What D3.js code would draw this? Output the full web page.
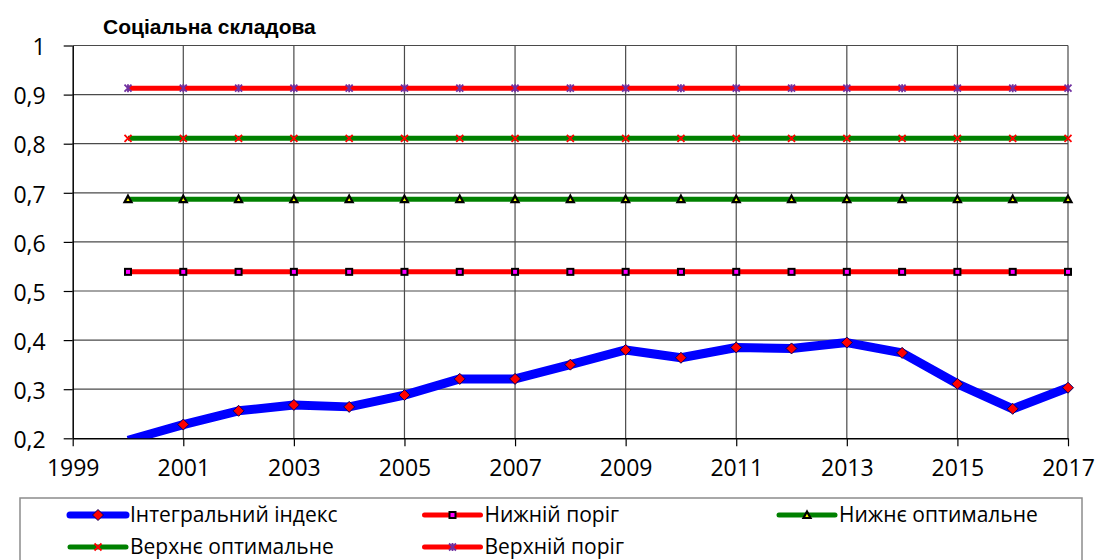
<!DOCTYPE html>
<html><head><meta charset="utf-8">
<script src="https://cdn.jsdelivr.net/npm/d3@7"></script>
<style>
body{margin:0;background:#fff;}
svg{display:block;}
</style></head>
<body>
<svg id="chart" width="1096" height="560"></svg>
<script>
const years = [2000,2001,2002,2003,2004,2005,2006,2007,2008,2009,2010,2011,2012,2013,2014,2015,2016,2017];
const integralIndex = [0.196,0.228,0.256,0.268,0.264,0.288,0.321,0.321,0.350,0.380,0.364,0.385,0.383,0.395,0.374,0.311,0.260,0.303];
const lowerThreshold = years.map(() => 0.539);
const lowerOptimal = years.map(() => 0.687);
const upperOptimal = years.map(() => 0.811);
const upperThreshold = years.map(() => 0.913);
const xTicks = [1999,2001,2003,2005,2007,2009,2011,2013,2015,2017];
const yTicks = [0.2,0.3,0.4,0.5,0.6,0.7,0.8,0.9,1];
const seriesNames = ["Інтегральний індекс","Нижній поріг","Нижнє оптимальне","Верхнє оптимальне","Верхній поріг"];
const title = "Соціальна складова";

const svg = d3.select("#chart");
const font = "'Open Sans', sans-serif";
const L = 72.7, R = 1068, T = 45.5, B = 438.3;
const x = d3.scaleLinear().domain([1999,2017]).range([L,R]);
const y = d3.scaleLinear().domain([0.2,1]).range([B,T]);

// title
svg.append("text").attr("x",103).attr("y",34).attr("font-family","'Liberation Sans', Arial, sans-serif")
  .attr("font-weight","bold").attr("font-size",21).attr("fill","#000").text(title);

// grid
const grid = svg.append("g");
grid.selectAll("line.v").data(xTicks.slice(1)).join("line")
  .attr("x1",d=>x(d)).attr("x2",d=>x(d)).attr("y1",T).attr("y2",B)
  .attr("stroke","#4a4a4a").attr("stroke-width",1.2);
grid.selectAll("line.h").data(yTicks.slice(1)).join("line")
  .attr("x1",L).attr("x2",R).attr("y1",d=>y(d)).attr("y2",d=>y(d))
  .attr("stroke","#4a4a4a").attr("stroke-width",1.2);

// axes
const fmt = d => d === 1 ? "1" : d3.format(".1f")(d).replace(".", ",");
const gx = svg.append("g").attr("transform",`translate(0,${B})`)
  .call(d3.axisBottom(x).tickValues(xTicks).tickFormat(d3.format("d")).tickSize(8).tickPadding(13).tickSizeOuter(0));
const gy = svg.append("g").attr("transform",`translate(${L},0)`)
  .call(d3.axisLeft(y).tickValues(yTicks).tickFormat(fmt).tickSize(9).tickPadding(18).tickSizeOuter(0));
[gx,gy].forEach(g=>{
  g.selectAll("text").attr("font-family",font).attr("font-size",23).attr("fill","#000");
  g.selectAll("line").attr("stroke","#000").attr("stroke-width",1.2);
  g.select(".domain").attr("stroke","#000").attr("stroke-width",1.5);
});
gy.selectAll("text").attr("dy","0.4em");

// clip
svg.append("clipPath").attr("id","plotclip").append("rect")
  .attr("x",L).attr("y",T).attr("width",R-L).attr("height",B-T);

const line = d3.line().x((d,i)=>x(years[i])).y(d=>y(d));
const lines = svg.append("g").attr("clip-path","url(#plotclip)");
const thresholdSeries = [
  {vals: lowerThreshold, color:"#ff0000"},
  {vals: lowerOptimal, color:"#008000"},
  {vals: upperOptimal, color:"#008000"},
  {vals: upperThreshold, color:"#ff0000"}
];
thresholdSeries.forEach(s=>{
  lines.append("path").attr("d",line(s.vals)).attr("fill","none").attr("stroke",s.color).attr("stroke-width",5);
});
lines.append("path").attr("d",line(integralIndex)).attr("fill","none").attr("stroke","#0000ff")
  .attr("stroke-width",9).attr("stroke-linejoin","round");

// marker drawers
function diamond(g,cx,cy){ g.append("path").attr("d",`M${cx},${cy-5.5}L${cx+5.5},${cy}L${cx},${cy+5.5}L${cx-5.5},${cy}Z`).attr("fill","#ff0000").attr("stroke","#000066").attr("stroke-width",1); }
function square(g,cx,cy){ g.append("rect").attr("x",cx-3).attr("y",cy-3).attr("width",6).attr("height",6).attr("fill","#ff00ff").attr("stroke","#000").attr("stroke-width",2); }
function triangle(g,cx,cy){ g.append("path").attr("d",`M${cx},${cy-3.5}L${cx+3.5},${cy+3}L${cx-3.5},${cy+3}Z`).attr("fill","#ffff00").attr("stroke","#000").attr("stroke-width",2.2).attr("stroke-linejoin","miter"); }
function cross(g,cx,cy){ g.append("path").attr("d",`M${cx-3.5},${cy-3.5}L${cx+3.5},${cy+3.5}M${cx-3.5},${cy+3.5}L${cx+3.5},${cy-3.5}`).attr("stroke","#ff0000").attr("stroke-width",1.8); }
function star(g,cx,cy){ g.append("path").attr("d",`M${cx-3.5},${cy-3.5}L${cx+3.5},${cy+3.5}M${cx-3.5},${cy+3.5}L${cx+3.5},${cy-3.5}M${cx},${cy-4}L${cx},${cy+4}`).attr("stroke","#7030a0").attr("stroke-width",1.8); }

const markers = svg.append("g");
const inDomain = v => v >= 0.2 && v <= 1;
[[lowerThreshold,square],[lowerOptimal,triangle],[upperOptimal,cross],[upperThreshold,star],[integralIndex,diamond]].forEach(([vals,fn])=>{
  vals.forEach((v,i)=>{ if(inDomain(v)) fn(markers, x(years[i]), y(v)); });
});

// legend
const lg = svg.append("g");
lg.append("rect").attr("x",20).attr("y",498).attr("width",1062).attr("height",80)
  .attr("fill","#fff").attr("stroke","#8c8c8c").attr("stroke-width",1.5);
const legendItems = [
  {name:seriesNames[0], color:"#0000ff", w:7, fn:diamond, col:0, row:0},
  {name:seriesNames[1], color:"#ff0000", w:5, fn:square, col:1, row:0},
  {name:seriesNames[2], color:"#008000", w:5, fn:triangle, col:2, row:0},
  {name:seriesNames[3], color:"#008000", w:5, fn:cross, col:0, row:1},
  {name:seriesNames[4], color:"#ff0000", w:5, fn:star, col:1, row:1}
];
legendItems.forEach(it=>{
  const ox = 70 + it.col*354.5, oy = 515 + it.row*32;
  lg.append("line").attr("x1",ox).attr("x2",ox+56).attr("y1",oy).attr("y2",oy)
    .attr("stroke",it.color).attr("stroke-width",it.w).attr("stroke-linecap","round");
  it.fn(lg, ox+28, oy);
  lg.append("text").attr("x",ox+60).attr("y",oy).attr("dy","0.35em").attr("font-family",font)
    .attr("font-size",21).attr("fill","#000").text(it.name);
});
</script>
</body></html>
